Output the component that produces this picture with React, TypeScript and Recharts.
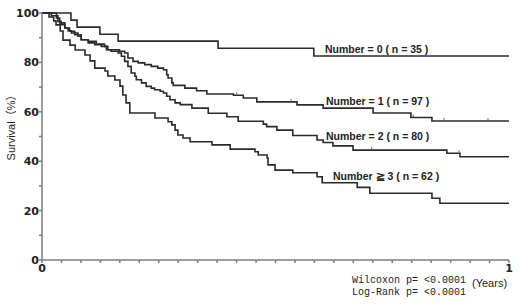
import React from 'react';
import { LineChart, Line, XAxis, YAxis } from 'recharts';

// Kaplan-Meier steps (time in years, survival %)
const timeN0 = [0, 0.062, 0.075, 0.124, 0.163, 0.377, 0.582, 1];
const survN0 = [100, 97.1, 94.3, 91.4, 88.6, 85.7, 82.6, 82.6];

const timeN1 = [
  0, 0.02, 0.034, 0.041, 0.049, 0.056, 0.063, 0.077, 0.084, 0.099,
  0.116, 0.134, 0.141, 0.166, 0.177, 0.184, 0.195, 0.206, 0.22, 0.234,
  0.248, 0.26, 0.267, 0.27, 0.278, 0.281, 0.306, 0.331, 0.353, 0.41,
  0.431, 0.46, 0.546, 0.602, 0.709, 0.79, 0.835, 1,
];
const survN1 = [
  100, 98.9, 96.6, 95.3, 93.9, 92.8, 91.9, 90.6, 89.2, 88.5,
  87.4, 86.5, 85.1, 84.5, 83.8, 81.8, 80.4, 79.8, 79.1, 78.4,
  77.7, 77, 75, 73.7, 71.7, 70.7, 69.6, 68.5, 67.2, 66.7,
  65.6, 64, 62.8, 61.5, 59.5, 57.7, 56.3, 56.3,
];

const timeN2 = [
  0, 0.031, 0.038, 0.049, 0.059, 0.07, 0.084, 0.099, 0.113, 0.127,
  0.138, 0.148, 0.163, 0.17, 0.177, 0.184, 0.191, 0.199, 0.202, 0.213,
  0.223, 0.234, 0.241, 0.253, 0.26, 0.267, 0.274, 0.285, 0.296, 0.321,
  0.356, 0.396, 0.42, 0.474, 0.481, 0.503, 0.537, 0.589, 0.602, 0.623,
  0.666, 0.867, 0.895, 1,
];
const survN2 = [
  100, 98, 96, 93.9, 92.6, 91.2, 89.2, 87.9, 87.2, 86.5,
  85.1, 84.5, 83.8, 82.5, 80.4, 78.4, 75.7, 74.4, 73, 71.7,
  70.3, 69.6, 68.9, 68.3, 67.6, 66.3, 64.9, 63.6, 62.9, 61.5,
  59.4, 58, 56.2, 55, 54, 52.6, 50.4, 48.6, 47.6, 46.2,
  44.5, 43.2, 41.8, 41.8,
];

const timeN3 = [
  0, 0.015, 0.025, 0.03, 0.039, 0.045, 0.06, 0.071, 0.092, 0.103,
  0.113, 0.135, 0.141, 0.156, 0.167, 0.173, 0.18, 0.188, 0.242, 0.27,
  0.278, 0.285, 0.291, 0.302, 0.317, 0.364, 0.403, 0.456, 0.463, 0.482,
  0.484, 0.499, 0.537, 0.589, 0.6, 0.675, 0.702, 0.835, 0.852, 1,
];
const survN3 = [
  100, 98.4, 96.8, 95.2, 92.7, 89, 87, 85, 83, 80.6,
  77.7, 76.5, 74.5, 72.9, 70.4, 66.8, 63.6, 59.5, 57.5, 56,
  54.7, 52.6, 50.6, 49.4, 47.9, 46.6, 44.9, 43.8, 42.5, 41.3,
  38.5, 36.4, 35.3, 33.7, 31.3, 29.4, 27, 25, 23, 23,
];

// censored observations (small tick marks)
const censorN1 = [0.417, 0.533, 0.795, 0.861, 0.955];
const censorN2 = [0.706, 0.893];

const groupLabels = [
  'Number = 0 ( n = 35 )',
  'Number = 1 ( n = 97 )',
  'Number = 2 ( n = 80 )',
  'Number \u2267 3 ( n = 62 )',
];
const yTicks = [0, 10, 20, 30, 40, 50, 60, 70, 80, 90, 100];
const xTicks = Array.from({ length: 25 }, (_, i) => i / 24);

const toPoints = (ts: number[], ss: number[]) => ts.map((t, i) => ({ t, s: ss[i] }));
const stepValue = (ts: number[], ss: number[], t: number) => {
  let v = ss[0];
  ts.forEach((x, i) => {
    if (x <= t) v = ss[i];
  });
  return v;
};

const series = [
  toPoints(timeN0, survN0),
  toPoints(timeN1, survN1),
  toPoints(timeN2, survN2),
  toPoints(timeN3, survN3),
];
const censors = [
  censorN1.map((t) => ({ t, s: stepValue(timeN1, survN1, t) })),
  censorN2.map((t) => ({ t, s: stepValue(timeN2, survN2, t) })),
];

const LINE = '#2a2a2a';
const AXIS = '#7c7c7c';

const CensorMark = (props: any) => {
  const { cx, cy } = props;
  if (cx == null || cy == null) return null;
  return <line x1={cx} x2={cx} y1={cy - 3} y2={cy} stroke="#666" strokeWidth={1} />;
};

const App = () => {
  return (
    <div style={{ position: 'fixed', left: 0, top: 0, width: 520, height: 306, background: '#fff' }}>
      <LineChart width={520} height={306} margin={{ top: 13, right: 11, left: 0, bottom: 0 }}>
        <XAxis
          type="number"
          dataKey="t"
          domain={[0, 1]}
          ticks={xTicks}
          interval={0}
          tickFormatter={(v: number) => (v === 0 ? '0' : v === 1 ? '1' : '')}
          tickSize={3}
          tickMargin={1}
          height={46}
          stroke={AXIS}
          strokeWidth={1.5}
          tick={{ fill: '#222', fontSize: 11, fontFamily: 'DejaVu Sans', fontWeight: 'bold' }}
        />
        <YAxis
          type="number"
          domain={[0, 100]}
          ticks={yTicks}
          interval={0}
          tickFormatter={(v: number) => (v % 20 === 0 ? String(v) : '')}
          tickSize={3}
          tickMargin={0}
          width={42}
          stroke={AXIS}
          strokeWidth={1.5}
          tick={{ fill: '#222', fontSize: 11, fontFamily: 'DejaVu Sans', fontWeight: 'bold' }}
        />
        {series.map((pts, i) => (
          <Line
            key={`km-${i}`}
            data={pts}
            dataKey="s"
            type="stepAfter"
            stroke={LINE}
            strokeWidth={1.6}
            dot={false}
            isAnimationActive={false}
          />
        ))}
        {censors.map((pts, i) => (
          <Line
            key={`cens-${i}`}
            data={pts}
            dataKey="s"
            stroke="none"
            dot={<CensorMark />}
            isAnimationActive={false}
          />
        ))}
      </LineChart>
      <svg
        width={520}
        height={306}
        style={{ position: 'absolute', left: 0, top: 0, pointerEvents: 'none' }}
      >
        <g fontFamily="Liberation Sans, Arial, sans-serif" fontWeight="bold" fontSize={10.5} fill="#222">
          <text x={325} y={49} dominantBaseline="central">{groupLabels[0]}</text>
          <text x={326} y={101} dominantBaseline="central">{groupLabels[1]}</text>
          <text x={326} y={136} dominantBaseline="central">{groupLabels[2]}</text>
          <text x={333} y={175.5} dominantBaseline="central">{groupLabels[3]}</text>
        </g>
        <text
          x={11}
          y={125}
          transform="rotate(-90 11 125)"
          textAnchor="middle"
          dominantBaseline="central"
          fontFamily="Liberation Sans, 'Noto Sans CJK JP', sans-serif"
          fontSize={11}
          fill="#222"
        >
          Survival（%）
        </text>
        <text x={472} y={283} dominantBaseline="central" fontFamily="Liberation Sans, Arial, sans-serif" fontSize={11} fill="#222">
          (Years)
        </text>
        <g fontFamily="Liberation Mono, DejaVu Sans Mono, monospace" fontSize={10} fill="#222">
          <text x={352} y={280} dominantBaseline="central">Wilcoxon p= &lt;0.0001</text>
          <text x={352} y={292} dominantBaseline="central">Log-Rank p= &lt;0.0001</text>
        </g>
      </svg>
    </div>
  );
};

export default App;
